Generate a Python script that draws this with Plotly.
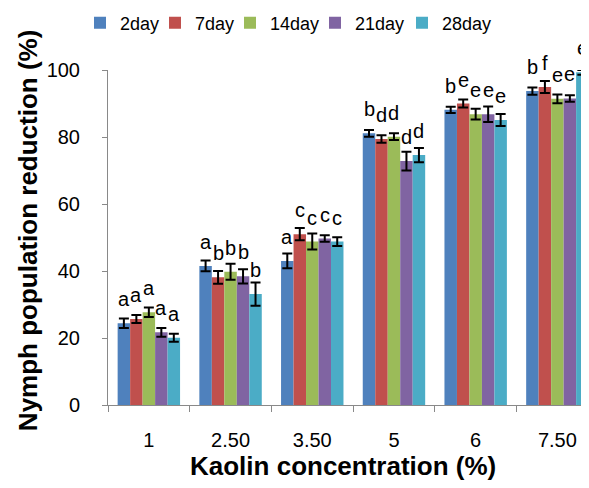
import plotly.graph_objects as go

concentrations = ["1", "2.50", "3.50", "5", "6", "7.50"]
series_names = ["2day", "7day", "14day", "21day", "28day"]
colors = ["#4F81BD", "#C0504D", "#9BBB59", "#8064A2", "#4BACC6"]

day2 = [24.4, 41.5, 43.0, 81.1, 88.1, 93.7]
day7 = [25.7, 38.1, 51.0, 79.4, 90.0, 94.9]
day14 = [27.7, 39.8, 48.8, 80.1, 86.8, 91.4]
day21 = [21.7, 38.4, 49.7, 72.8, 86.8, 91.5]
day28 = [20.1, 33.1, 48.8, 74.6, 85.1, 99.3]

err2 = [1.4, 1.6, 2.2, 1.0, 0.9, 1.1]
err7 = [1.2, 1.9, 1.8, 1.1, 1.2, 1.8]
err14 = [1.4, 2.4, 2.4, 1.0, 1.6, 1.3]
err21 = [1.3, 2.1, 1.0, 2.8, 2.3, 1.0]
err28 = [1.2, 3.5, 1.3, 2.1, 1.8, 0.7]

letters2 = ["a", "a", "a", "b", "b", "b"]
letters7 = ["a", "b", "c", "d", "e", "f"]
letters14 = ["a", "b", "c", "d", "e", "e"]
letters21 = ["a", "b", "c", "d", "e", "e"]
letters28 = ["a", "b", "c", "d", "e", "e"]

values = [day2, day7, day14, day21, day28]
errors = [err2, err7, err14, err21, err28]
letters = [letters2, letters7, letters14, letters21, letters28]

# legend entry left edges (container fraction of width) for one-entry legends
legend_x = [72 / 589, 147 / 589, 222 / 589, 307 / 589, 394 / 589]
legend_ids = ["legend", "legend2", "legend3", "legend4", "legend5"]

BARGAP = 0.236
FONT = "Liberation Sans, Arial, sans-serif"

fig = go.Figure()
for name, col, v, e, lid in zip(series_names, colors, values, errors, legend_ids):
    fig.add_trace(go.Bar(
        name=name, x=concentrations, y=v, marker_color=col, marker_line_width=0,
        legend=lid, showlegend=True,
        error_y=dict(type="data", array=e, visible=True, color="black",
                     thickness=2, width=5),
    ))

n = len(series_names)
w = (1 - BARGAP) / n
annotations = []
for j in range(n):
    for i in range(len(concentrations)):
        annotations.append(dict(
            x=i + (j - (n - 1) / 2) * w, y=values[j][i], xref="x", yref="y",
            text=letters[j][i], showarrow=False, yanchor="bottom", xanchor="center",
            yshift=11, font=dict(size=20, color="black", family=FONT),
        ))

annotations.append(dict(
    text="<b>Kaolin concentration (%)</b>", x=0.4886, y=-0.182, xref="paper", yref="paper",
    showarrow=False, xanchor="center", yanchor="middle",
    font=dict(size=26, color="black", family=FONT),
))
annotations.append(dict(
    text="<b>Nymph population reduction (%)</b>", x=-0.1663, y=0.522, xref="paper", yref="paper",
    showarrow=False, xanchor="center", yanchor="middle", textangle=-90,
    font=dict(size=26, color="black", family=FONT),
))

layout_legends = {}
for lid, lx in zip(legend_ids, legend_x):
    layout_legends[lid] = dict(
        orientation="h", x=lx, xanchor="left", xref="container",
        y=1 - 15 / 488, yanchor="middle", yref="container",
        font=dict(size=18, color="black", family=FONT), itemwidth=30,
        bgcolor="rgba(0,0,0,0)",
    )

fig.update_layout(
    width=589, height=488,
    margin=dict(l=100, r=8, t=62, b=91),
    paper_bgcolor="white", plot_bgcolor="white",
    showlegend=True,
    barmode="group", bargap=BARGAP, bargroupgap=0,
    font=dict(family=FONT, color="black"),
    annotations=annotations,
    xaxis=dict(
        type="category", range=[-0.5, 5.387], showgrid=False, showline=True,
        linecolor="#898989", linewidth=1, ticks="outside", tickson="boundaries",
        ticklen=6, tickcolor="#898989", tickfont=dict(size=20, color="black"),
        ticklabelstandoff=17,
    ),
    yaxis=dict(
        range=[0, 100], dtick=20, showgrid=False, showline=True, zeroline=False,
        linecolor="#898989", linewidth=1, ticks="outside", ticklen=5,
        tickcolor="#898989", tickfont=dict(size=20, color="black"),
        ticklabelstandoff=18,
    ),
    **layout_legends,
)

fig.write_html("out.html")
